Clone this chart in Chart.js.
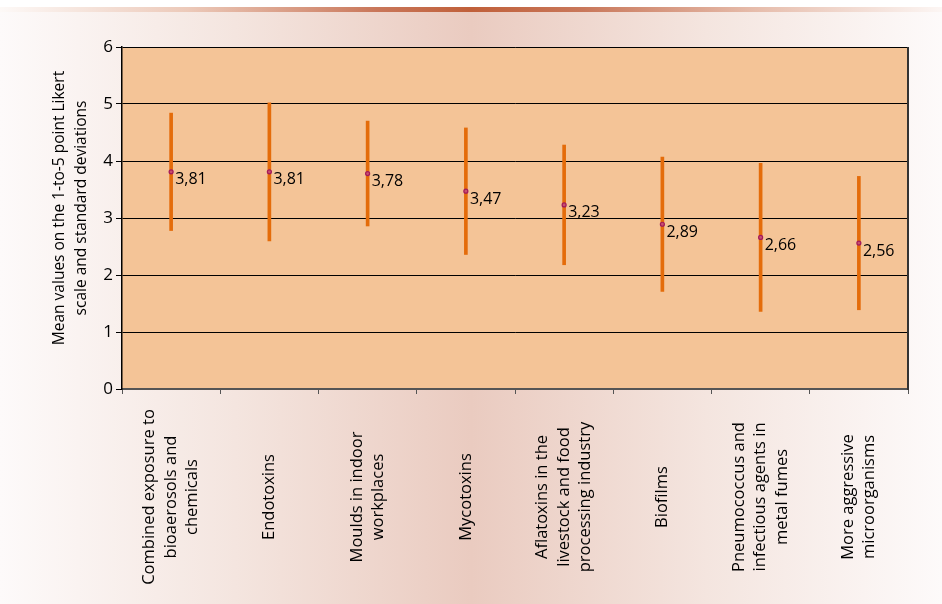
<!DOCTYPE html>
<html>
<head>
<meta charset="utf-8">
<script src="https://cdn.jsdelivr.net/npm/chart.js@4.4.1/dist/chart.umd.min.js"></script>
<style>
    html, body { margin: 0; padding: 0; overflow: hidden; }
    body {
        width: 942px;
        height: 604px;
        position: relative;
        background: #ffffff;
    }
    .band {
        position: absolute;
        left: 0; top: 7px;
        width: 942px; height: 5px;
        background: linear-gradient(to right, #fdf9f7 0%, #ecc9b9 20%, #c9775a 40%, #c0603a 50%, #c9785b 62%, #e6bcab 80%, #fcf6f4 100%);
    }
    .backdrop {
        position: absolute;
        left: 0; top: 12px;
        width: 942px; height: 592px;
        background: linear-gradient(to right, #fdfafa 0%, #f4e5df 25%, #eacbc0 50%, #f4e5df 75%, #fdfafa 100%);
    }
    #chart { position: absolute; left: 0; top: 0; }
</style>
</head>
<body>
<div class="band"></div>
<div class="backdrop"></div>
<canvas id="chart" width="942" height="604"></canvas>
<script>
const colors = {
    plot: '#f4c497',
    bar: '#e46c0a',
    markerBorder: '#a3195b',
    markerFill: '#c8506e',
    text: '#000000',
    axis: '#000000',
    xAxis: '#555555'
};

const categories = [
    ['Combined exposure to', 'bioaerosols and', 'chemicals'],
    ['Endotoxins'],
    ['Moulds in indoor', 'workplaces'],
    ['Mycotoxins'],
    ['Aflatoxins in the', 'livestock and food', 'processing industry'],
    ['Biofilms'],
    ['Pneumococcus and', 'infectious agents in', 'metal fumes'],
    ['More aggressive', 'microorganisms']
];
const means = [3.81, 3.81, 3.78, 3.47, 3.23, 2.89, 2.66, 2.56];
const sds = [1.03, 1.21, 0.92, 1.11, 1.05, 1.18, 1.30, 1.17];
const yTitle = ['Mean values on the 1-to-5 point Likert', 'scale and standard deviations'];

const ranges = means.map((m, i) => [m - sds[i], m + sds[i]]);

const FONT = '"Open Sans", "Noto Sans", sans-serif';

// plot fill, right border, rotated labels and value labels
const decorations = {
    id: 'decorations',
    beforeDraw(chart) {
        const { ctx, chartArea: a } = chart;
        ctx.save();
        ctx.fillStyle = colors.plot;
        ctx.fillRect(a.left, a.top, a.right - a.left, a.bottom - a.top);
        ctx.restore();
    },
    afterDraw(chart) {
        const { ctx, chartArea: a } = chart;
        const x = chart.scales.x;
        ctx.save();

        ctx.strokeStyle = '#333333';
        ctx.lineWidth = 2;
        ctx.beginPath();
        ctx.moveTo(a.right, a.top);
        ctx.lineTo(a.right, a.bottom + 1);
        ctx.stroke();

        ctx.fillStyle = colors.text;

        // category labels, rotated, centred on a common line
        ctx.font = '16.5px ' + FONT;
        ctx.textAlign = 'center';
        ctx.textBaseline = 'middle';
        const lh = 21.5;
        categories.forEach((lines, i) => {
            const px = x.getPixelForValue(i);
            lines.forEach((t, j) => {
                ctx.save();
                ctx.translate(px + (j - (lines.length - 1) / 2) * lh, 497);
                ctx.rotate(-Math.PI / 2);
                ctx.fillText(t, 0, 0);
                ctx.restore();
            });
        });

        // y axis title
        ctx.font = '15.5px ' + FONT;
        yTitle.forEach((t, j) => {
            ctx.save();
            ctx.translate(60 + j * 22, 208);
            ctx.rotate(-Math.PI / 2);
            ctx.fillText(t, 0, 0);
            ctx.restore();
        });

        // value labels
        ctx.font = '16px ' + FONT;
        ctx.textAlign = 'left';
        const meta = chart.getDatasetMeta(1);
        meta.data.forEach((pt, i) => {
            ctx.fillText(means[i].toFixed(2).replace('.', ','), pt.x + 4, pt.y + 8);
        });
        ctx.restore();
    }
};

const ctx = document.getElementById('chart').getContext('2d');

const chart = new Chart(ctx, {
    type: 'bar',
    data: {
        labels: categories.map(c => c.join(' ')),
        datasets: [{
            type: 'bar',
            data: ranges,
            backgroundColor: colors.bar,
            borderWidth: 0,
            barThickness: 3,
            order: 2
        }, {
            type: 'line',
            data: means,
            showLine: false,
            pointRadius: 2,
            pointBorderWidth: 1.2,
            pointBorderColor: colors.markerBorder,
            pointBackgroundColor: colors.markerFill,
            order: 1
        }]
    },
    options: {
        responsive: false,
        animation: false,
        layout: {
            padding: { left: 0, top: 47, right: 34, bottom: 0 }
        },
        plugins: {
            legend: { display: false },
            tooltip: { enabled: false }
        },
        scales: {
            x: {
                grid: {
                    offset: true,
                    drawOnChartArea: false,
                    drawTicks: true,
                    tickLength: 5,
                    color: colors.xAxis,
                    lineWidth: 1
                },
                border: { color: colors.xAxis, width: 2 },
                ticks: { display: false },
                afterFit: function(scale) { scale.height = 215; }
            },
            y: {
                min: 0,
                max: 6,
                ticks: {
                    stepSize: 1,
                    color: colors.text,
                    padding: 3,
                    font: { family: FONT, size: 17 }
                },
                grid: {
                    color: colors.axis,
                    lineWidth: 1,
                    tickLength: 6
                },
                border: { color: colors.axis, width: 1.5 },
                afterFit: function(scale) { scale.width = 122; }
            }
        }
    },
    plugins: [decorations]
});
</script>
</body>
</html>
